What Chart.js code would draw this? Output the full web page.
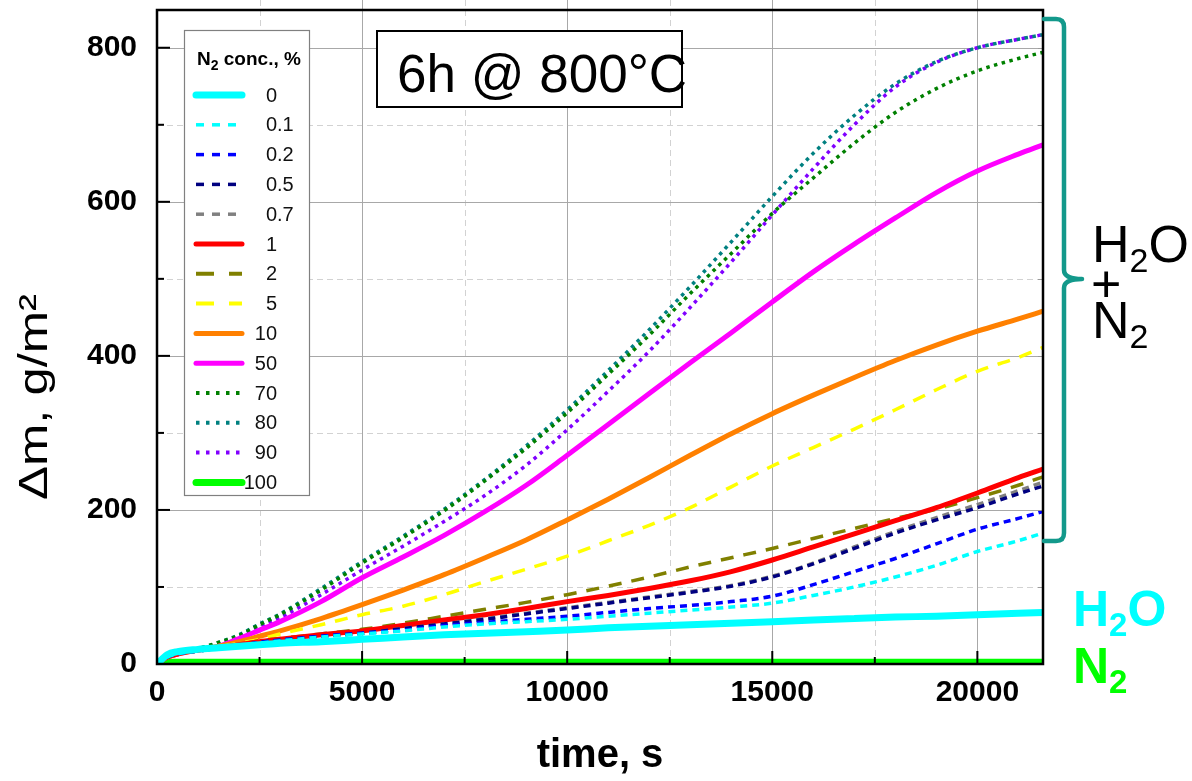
<!DOCTYPE html>
<html><head><meta charset="utf-8">
<script src="https://cdn.jsdelivr.net/npm/chart.js@4.4.1/dist/chart.umd.min.js"></script>
<style>html,body{margin:0;padding:0;background:#fff;overflow:hidden}canvas{display:block}</style>
</head><body>
<canvas id="c" width="1192" height="781" style="width:1192px;height:781px"></canvas>
<script>
// ---------------- data ----------------
const times = [0,250,500,1000,1500,2000,2500,3000,4000,5000,6000,7000,8000,9000,10000,11000,12000,13000,14000,15000,16000,17000,18000,19000,20000,21000,21600];
const n0   = [0,12,16,19,21,23,25,27,29,32,35,38,40,42,44,47,49,51,53,55,57,59,61,62,64,66,67];
const n01  = [0,9,13,17,20,24,27,30,35,39,43,48,52,55,58,62,66,70,74,79,89,100,113,128,146,160,170];
const n02  = [0,9,13,17,20,24,28,31,36,40,44,50,54,58,62,67,72,76,81,88,103,120,137,156,175,189,198];
const n05  = [0,9,13,17,20,24,28,31,36,40,46,52,58,65,72,79,86,93,101,113,130,150,170,187,203,221,231];
const n07  = [0,9,13,17,20,24,28,31,36,40,46,52,59,66,73,80,87,94,102,114,131,152,172,190,207,225,236];
const n1   = [0,9,13,18,21,25,29,32,38,43,50,57,64,72,81,89,98,108,120,135,152,169,186,203,222,242,253];
const n2   = [0,9,13,18,21,25,30,33,39,45,53,62,71,80,90,101,113,126,138,150,163,176,189,201,216,232,243];
const n5   = [0,9,13,18,22,27,32,39,51,64,75,90,107,123,140,160,180,203,230,257,281,305,330,356,380,398,411];
const n10  = [0,9,13,18,23,29,36,43,59,77,96,116,138,161,187,214,242,271,299,325,349,372,394,414,432,448,458];
const n50  = [0,9,13,18,23,33,44,55,81,112,139,167,198,232,271,311,351,391,430,470,509,545,579,612,640,662,674];
const n70  = [0,9,13,20,28,37,51,64,96,131,164,199,238,280,326,376,427,481,533,585,631,676,716,747,770,786,794];
const n80  = [0,9,13,20,28,38,52,65,98,133,166,201,240,283,330,381,434,490,548,607,663,712,753,782,800,811,817];
const n90  = [0,9,13,19,25,36,48,60,90,122,153,185,219,258,304,354,406,463,522,583,643,700,749,781,800,811,817];
const n100 = [0,3,3,3,3,3,3,3,3,3,3,3,3,3,3,3,3,3,3,3,3,3,3,3,3,3,3];

const concLabels = ['0','0.1','0.2','0.5','0.7','1','2','5','10','50','70','80','90','100'];
const seriesValues = [n0,n01,n02,n05,n07,n1,n2,n5,n10,n50,n70,n80,n90,n100];

const xTickVals = [0,5000,10000,15000,20000];
const yTickVals = [0,200,400,600,800];
const xMinorGrid = [2500,7500,12500,17500];
const xMajorGrid = [5000,10000,15000,20000];
const yMinorGrid = [100,300,500,700];
const yMajorGrid = [200,400,600,800];

// ---------------- styles ----------------
const FF = "'Liberation Sans', Arial, sans-serif";
const colors = ['#00FFFF','#00FFFF','#0000FF','#000080','#808080','#FF0000','#808000','#FFFF00','#FF8000','#FF00FF','#008000','#008080','#8000FF','#00FF00'];
const SOLID=[], SHORT=[7,5], LONG=[13,10], DOT=[3.5,4.5];
const dashes = [SOLID,SHORT,SHORT,SHORT,SHORT,SOLID,LONG,LONG,SOLID,SOLID,DOT,DOT,DOT,SOLID];
const widths = [7,3.5,3.5,3.5,3.5,5,3.5,3.5,5,5,3.5,3.5,3.5,6];
const LSHORT=[8,8], LLONG=[18,15], LDOT=[3.5,6.5];
const legendDash = [SOLID,LSHORT,LSHORT,LSHORT,LSHORT,SOLID,LLONG,LLONG,SOLID,SOLID,LDOT,LDOT,LDOT,SOLID];
const legendWidths = [7,3.5,3.5,3.5,3.5,5,4,4,5,5,4,4,4,7];

Chart.defaults.font.family = FF;

const datasets = seriesValues.map((vals,i)=>({
  label: concLabels[i],
  data: times.map((t,k)=>({x:t, y:vals[k]})),
  borderColor: colors[i],
  backgroundColor: colors[i],
  borderWidth: widths[i],
  borderDash: dashes[i],
  borderCapStyle: dashes[i].length ? 'butt' : 'round',
  borderJoinStyle: 'round',
  pointRadius: 0,
  cubicInterpolationMode: 'monotone',
  fill: false
}));

function line(ctx,x1,y1,x2,y2){ctx.beginPath();ctx.moveTo(x1,y1);ctx.lineTo(x2,y2);ctx.stroke();}

const gridPlugin = {
  id:'gridPlugin',
  beforeDatasetsDraw(chart){
    const {ctx, chartArea:a, scales:{x,y}} = chart;
    ctx.save();
    ctx.lineWidth = 1;
    ctx.strokeStyle = '#d2d2d2'; ctx.setLineDash([6,4]);
    xMinorGrid.forEach(v=>{const p=Math.round(x.getPixelForValue(v))+0.5; line(ctx,p,0,p,a.bottom);});
    yMinorGrid.forEach(v=>{const p=Math.round(y.getPixelForValue(v))+0.5; line(ctx,a.left,p,a.right,p);});
    ctx.setLineDash([]); ctx.strokeStyle = '#a8a8a8';
    xMajorGrid.forEach(v=>{const p=Math.round(x.getPixelForValue(v))+0.5; line(ctx,p,0,p,a.bottom);});
    yMajorGrid.forEach(v=>{const p=Math.round(y.getPixelForValue(v))+0.5; line(ctx,a.left,p,a.right,p);});
    ctx.restore();
  },
  afterDatasetsDraw(chart){
    const {ctx, chartArea:a, scales:{x,y}} = chart;
    ctx.save();
    // inward tick marks
    ctx.strokeStyle='#000'; ctx.lineWidth=2;
    xMajorGrid.forEach(v=>{const p=x.getPixelForValue(v); line(ctx,p,a.bottom,p,a.bottom-13);});
    xMinorGrid.forEach(v=>{const p=x.getPixelForValue(v); line(ctx,p,a.bottom,p,a.bottom-7);});
    yMajorGrid.forEach(v=>{const p=y.getPixelForValue(v); line(ctx,a.left,p,a.left+13,p);});
    yMinorGrid.forEach(v=>{const p=y.getPixelForValue(v); line(ctx,a.left,p,a.left+7,p);});
    ctx.strokeStyle='#9a9a9a'; ctx.lineWidth=1;
    yMajorGrid.concat(yMinorGrid).forEach(v=>{const p=Math.round(y.getPixelForValue(v))+0.5; line(ctx,a.right-5,p,a.right,p);});
    // frame
    ctx.strokeStyle='#000'; ctx.lineWidth=2.5;
    ctx.strokeRect(a.left, a.top, a.right-a.left, a.bottom-a.top);

    // title box
    ctx.fillStyle='#fff'; ctx.fillRect(377,31,305,76);
    ctx.strokeStyle='#000'; ctx.lineWidth=2; ctx.strokeRect(377,31,305,76);
    ctx.fillStyle='#000'; ctx.font=`53px ${FF}`; ctx.textAlign='left'; ctx.textBaseline='alphabetic';
    ctx.fillText('6h @ 800°C', 397, 92);

    // legend
    const L={x0:184,y0:30,x1:309,y1:495};
    ctx.fillStyle='#fff'; ctx.fillRect(L.x0,L.y0,L.x1-L.x0,L.y1-L.y0);
    ctx.strokeStyle='#808080'; ctx.lineWidth=1.2; ctx.strokeRect(L.x0+0.5,L.y0+0.5,L.x1-L.x0,L.y1-L.y0);
    ctx.fillStyle='#000';
    let tx=197;
    ctx.font=`bold 19px ${FF}`; ctx.fillText('N',tx,65); tx+=ctx.measureText('N').width;
    ctx.font=`bold 14px ${FF}`; ctx.fillText('2',tx,70); tx+=ctx.measureText('2').width;
    ctx.font=`bold 19px ${FF}`; ctx.fillText(' conc., %',tx,65);
    concLabels.forEach((lab,i)=>{
      const yy = 95 + i*29.8;
      ctx.strokeStyle=colors[i]; ctx.lineWidth=legendWidths[i];
      ctx.setLineDash(legendDash[i]); ctx.lineCap = legendDash[i].length ? 'butt' : 'round';
      line(ctx,196,yy,242,yy);
      ctx.setLineDash([]); ctx.lineCap='butt';
      const parts = lab.split('.');
      ctx.font=`20px ${FF}`; ctx.fillStyle='#111'; ctx.textBaseline='middle';
      ctx.textAlign='right'; ctx.fillText(parts[0],277,yy+1);
      if(parts[1]){ ctx.textAlign='left'; ctx.fillText('.'+parts[1],277,yy+1); }
    });
    ctx.restore();
  },
  afterDraw(chart){
    const {ctx} = chart;
    ctx.save();
    ctx.fillStyle='#000'; ctx.textAlign='center'; ctx.textBaseline='alphabetic';
    // x title
    ctx.font=`bold 40px ${FF}`;
    ctx.fillText('time, s', 600, 767);
    // y title
    ctx.save();
    ctx.translate(47, 397); ctx.rotate(-Math.PI/2); ctx.scale(1.27,1);
    ctx.font=`40px ${FF}`;
    ctx.fillText('Δm, g/m²', 0, 0);
    ctx.restore();

    // bracket
    ctx.strokeStyle='#13998b'; ctx.lineWidth=4.5; ctx.lineJoin='round'; ctx.lineCap='round';
    ctx.beginPath();
    ctx.moveTo(1044,19); ctx.lineTo(1056,19); ctx.quadraticCurveTo(1064,19,1064,27);
    ctx.lineTo(1064,270); ctx.quadraticCurveTo(1064,279,1082,279);
    ctx.quadraticCurveTo(1064,279,1064,288);
    ctx.lineTo(1064,533); ctx.quadraticCurveTo(1064,541,1056,541); ctx.lineTo(1044,541);
    ctx.stroke();

    // annotations
    function chem(x, base, main, sub, rest, size, subSize, color, bold){
      const w = bold?'bold ':'';
      ctx.fillStyle=color; ctx.textAlign='left';
      ctx.font=`${w}${size}px ${FF}`; ctx.fillText(main,x,base); x+=ctx.measureText(main).width;
      ctx.font=`${w}${subSize}px ${FF}`; ctx.fillText(sub,x,base+10); x+=ctx.measureText(sub).width;
      if(rest){ ctx.font=`${w}${size}px ${FF}`; ctx.fillText(rest,x,base); }
    }
    chem(1092,262,'H','2','O',52,34,'#000',false);
    ctx.font=`52px ${FF}`; ctx.fillStyle='#000'; ctx.fillText('+',1091,302);
    chem(1092,338,'N','2','',52,34,'#000',false);
    chem(1073,626,'H','2','O',50,33,'#00FFFF',true);
    chem(1073,683,'N','2','',50,33,'#00FF00',true);
    ctx.restore();
  }
};

new Chart(document.getElementById('c'), {
  type:'line',
  data:{datasets},
  options:{
    responsive:false, animation:false, devicePixelRatio:1,
    layout:{padding:{left:0,top:10,right:149,bottom:0}},
    plugins:{legend:{display:false}, tooltip:{enabled:false}},
    scales:{
      x:{type:'linear', min:0, max:21600,
         grid:{display:false, drawTicks:false}, border:{display:false},
         afterBuildTicks:s=>{s.ticks=xTickVals.map(v=>({value:v}));},
         afterFit:s=>{s.height=117; s.paddingLeft=0; s.paddingRight=0;},
         ticks:{padding:11, color:'#000', font:{size:30, weight:'bold'}, maxRotation:0, autoSkip:false,
                callback:v=>String(v)}},
      y:{type:'linear', min:0, max:849,
         grid:{display:false, drawTicks:false}, border:{display:false},
         afterBuildTicks:s=>{s.ticks=yTickVals.map(v=>({value:v}));},
         afterFit:s=>{s.width=157; s.paddingTop=0; s.paddingBottom=0;},
         ticks:{padding:20, color:'#000', font:{size:30, weight:'bold'}, callback:v=>String(v)}}
    }
  },
  plugins:[gridPlugin]
});
</script>
</body></html>
